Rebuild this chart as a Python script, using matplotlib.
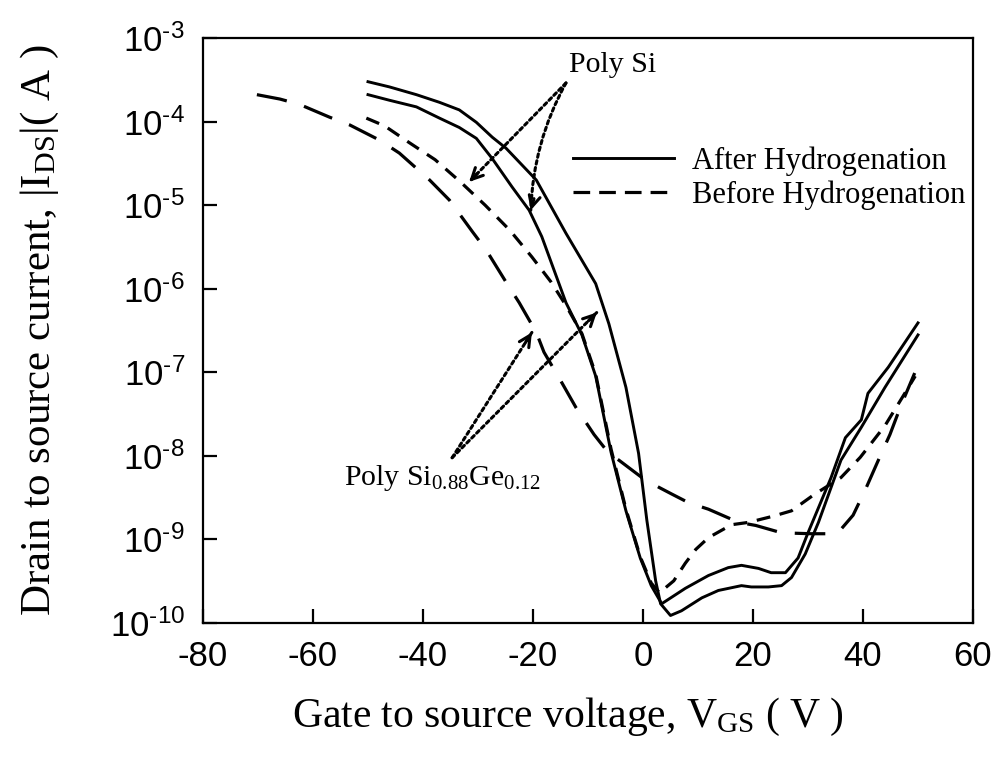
import numpy as np
import matplotlib
matplotlib.use('Agg')
import matplotlib.pyplot as plt
from matplotlib.lines import Line2D
from matplotlib.ticker import FixedFormatter

# Poly Si0.88Ge0.12, after hydrogenation (upper solid)
vgs_sige_after = [-50, -46.1, -41.2, -37.0, -33.4, -30.3, -27.4, -24.9, -19.4, -14.0,
                  -8.6, -6.2, -3.1, -0.8, 0.7, 2.3, 3.2, 5.0, 7.0, 10.7,
                  13.7, 17.9, 19.7, 22.8, 25.2, 27.0, 29.5, 31.9, 36.0, 39.7,
                  44.0, 50]
ids_sige_after = [3.0e-4, 2.6e-4, 2.1e-4, 1.7e-4, 1.38e-4, 9.8e-5, 6.5e-5, 4.8e-5, 2.0e-5, 4.6e-6,
                  1.15e-6, 3.8e-7, 6.6e-8, 1.07e-8, 1.7e-9, 3.2e-10, 1.7e-10, 1.23e-10, 1.4e-10, 2.0e-10,
                  2.45e-10, 2.8e-10, 2.7e-10, 2.7e-10, 2.8e-10, 3.5e-10, 6.7e-10, 1.6e-9, 8.9e-9, 2.2e-8,
                  6.6e-8, 2.8e-7]

# Poly Si, after hydrogenation (lower solid)
vgs_si_after = [-50, -46.1, -41.2, -37.0, -33.4, -30.3, -27.4, -23.8, -20.7, -18.4,
                -14.0, -11.1, -8.6, -5.8, -3.1, -0.5, 1.5, 3.4, 7.7, 11.9,
                15.5, 17.9, 21.0, 23.3, 25.9, 28.2, 30.0, 34.2, 36.8, 39.7,
                40.9, 44.6, 50]
ids_si_after = [2.1e-4, 1.8e-4, 1.5e-4, 1.1e-4, 8.5e-5, 6.3e-5, 3.6e-5, 1.65e-5, 8.7e-6, 4.2e-6,
                6.8e-7, 2.8e-7, 9e-8, 1.1e-8, 2.2e-9, 6e-10, 2.8e-10, 1.7e-10, 2.6e-10, 3.7e-10,
                4.6e-10, 4.9e-10, 4.5e-10, 4.0e-10, 4.0e-10, 6.0e-10, 1.2e-9, 5.5e-9, 1.65e-8, 2.7e-8,
                5.6e-8, 1.15e-7, 3.9e-7]

# Poly Si, before hydrogenation (medium dashes)
vgs_si_before = [-50.3, -47.0, -42.5, -37.8, -33.2, -28.7, -24.2, -20.2, -16.7, -14.0,
                 -11.1, -8.6, -5.8, -3.1, -0.5, 1.5, 3.0, 5.6, 7.7, 9.6,
                 11.9, 16.1, 19.2, 23.7, 27.0, 31.0, 36.0, 39.5, 44.0, 47.3,
                 49.5]
ids_si_before = [1.1e-4, 8.9e-5, 5.6e-5, 3.5e-5, 1.9e-5, 1.0e-5, 5.0e-6, 2.4e-6, 1.2e-6, 6.3e-7,
                 2.9e-7, 9.5e-8, 1.2e-8, 2.3e-9, 6.2e-10, 3e-10, 2.3e-10, 3.2e-10, 5.2e-10, 7.6e-10,
                 1.05e-9, 1.5e-9, 1.6e-9, 1.9e-9, 2.2e-9, 3.4e-9, 5.5e-9, 9.6e-9, 2.3e-8, 5.2e-8,
                 9e-8]

# Poly Si0.88Ge0.12, before hydrogenation (long dashes)
vgs_sige_before = [-70.2, -66.0, -62.4, -57.0, -53.3, -47.9, -44.3, -38.8, -35.2, -31.0,
                   -28.5, -24.9, -22.5, -19.4, -18.0, -14.7, -12.2, -8.9, -6.2, -4.4,
                   -0.2, 2.9, 5.2, 8.3, 11.9, 17.4, 20.5, 25.2, 30.6, 34.2,
                   35.9, 38.2, 40.4, 42.8, 44.9, 46.9, 49.4]
ids_sige_before = [2.1e-4, 1.86e-4, 1.6e-4, 1.13e-4, 9.1e-5, 6.0e-5, 4.2e-5, 2.0e-5, 1.15e-5, 4.8e-6,
                   2.9e-6, 1.2e-6, 6.8e-7, 3.0e-7, 1.74e-7, 7.4e-8, 3.8e-8, 1.8e-8, 1.07e-8, 8.9e-9,
                   5.5e-9, 4.2e-9, 3.5e-9, 2.75e-9, 2.3e-9, 1.6e-9, 1.47e-9, 1.2e-9, 1.17e-9, 1.17e-9,
                   1.3e-9, 1.95e-9, 3.9e-9, 8.9e-9, 1.8e-8, 4.0e-8, 9.8e-8]

# annotation anchors (V, A)
si_label_xy = (-13.5, 3.9e-4)
si_arrow_start = (-14.0, 2.9e-4)
si_arrow_ends = [(-31.6, 1.9e-5), (-20.4, 8.7e-6)]
sige_label_xy = (-54.3, 4.5e-9)
sige_arrow_start = (-34.7, 9.5e-9)
sige_arrow_ends = [(-20.2, 3.0e-7), (-8.4, 5.2e-7)]

x_ticks = [-80, -60, -40, -20, 0, 20, 40, 60]
y_exps = [-10, -9, -8, -7, -6, -5, -4, -3]
y_ticks = [10.0 ** e for e in y_exps]
y_labels = ['10$^{\u2010%d}$' % -e for e in y_exps]

plt.rcParams['font.family'] = 'Liberation Sans'
plt.rcParams['mathtext.default'] = 'regular'
plt.rcParams['axes.unicode_minus'] = False
plt.rcParams['lines.scale_dashes'] = False

SERIF = 'Liberation Serif'

fig = plt.figure(figsize=(9.96, 7.68), dpi=100)
ax = fig.add_axes([0.2038, 0.1888, 0.7731, 0.7617])

ax.plot(vgs_sige_after, ids_sige_after, color='black', lw=2.1)
ax.plot(vgs_si_after, ids_si_after, color='black', lw=2.1)
ax.plot(vgs_si_before, ids_si_before, color='black', lw=2.3, dashes=(10, 7))
ax.plot(vgs_sige_before, ids_sige_before, color='black', lw=2.3, dashes=(22, 13))

ax.set_yscale('log')
ax.set_xlim(-80, 60)
ax.set_ylim(1e-10, 1e-3)
ax.set_xticks(x_ticks)
ax.set_yticks(y_ticks)
ax.yaxis.set_major_formatter(FixedFormatter(y_labels))
ax.minorticks_off()
ax.tick_params(axis='both', direction='in', length=10, width=1.6, labelsize=25)
ax.tick_params(axis='x', pad=12)
ax.tick_params(axis='y', pad=13)
for s in ax.spines.values():
    s.set_linewidth(1.6)

ax.set_xlabel('Gate to source voltage, V$_{\\mathregular{GS}}$ ( V )', family=SERIF, fontsize=30)
ax.set_ylabel('Drain to source current, |I$_{\\mathregular{DS}}$|( A )', family=SERIF, fontsize=31)
ax.xaxis.set_label_coords(0.474, -0.125)
ax.yaxis.set_label_coords(-0.185, 0.5)

handles = [Line2D([], [], color='black', lw=2.1),
           Line2D([], [], color='black', lw=2.3, dashes=(12, 6.5))]
ax.legend(handles, ['After Hydrogenation', 'Before Hydrogenation'], loc='upper right',
          bbox_to_anchor=(1.0, 0.828), frameon=False, prop={'family': SERIF, 'size': 22},
          handlelength=3.3, handletextpad=0.6, labelspacing=0.15, borderaxespad=0,
          borderpad=0.25)

ax.figure.canvas.draw()


def dotted_arrow(start, end, rad=0.0):
    ax.annotate('', xy=end, xytext=start,
                arrowprops=dict(arrowstyle='-', lw=2.2, ls=(0, (2.5, 2.5)), color='black',
                                shrinkA=0, shrinkB=0, connectionstyle=f'arc3,rad={rad}'))
    p0 = ax.transData.transform(start)
    p1 = ax.transData.transform(end)
    d = (p1 - p0) / np.hypot(*(p1 - p0))
    tail = ax.transData.inverted().transform(p1 - d * 12)
    ax.annotate('', xy=end, xytext=tuple(tail),
                arrowprops=dict(arrowstyle='->,head_length=0.8,head_width=0.4', lw=2.2,
                                color='black', shrinkA=0, shrinkB=0))


ax.text(*si_label_xy, 'Poly Si', family=SERIF, fontsize=21.5, va='baseline')
dotted_arrow(si_arrow_start, si_arrow_ends[0])
dotted_arrow(si_arrow_start, si_arrow_ends[1], rad=0.12)

ax.text(*sige_label_xy, 'Poly Si$_{\\mathregular{0.88}}$Ge$_{\\mathregular{0.12}}$',
        family=SERIF, fontsize=21.5, va='baseline')
for end in sige_arrow_ends:
    dotted_arrow(sige_arrow_start, end)

fig.savefig('out.png', dpi=100)
